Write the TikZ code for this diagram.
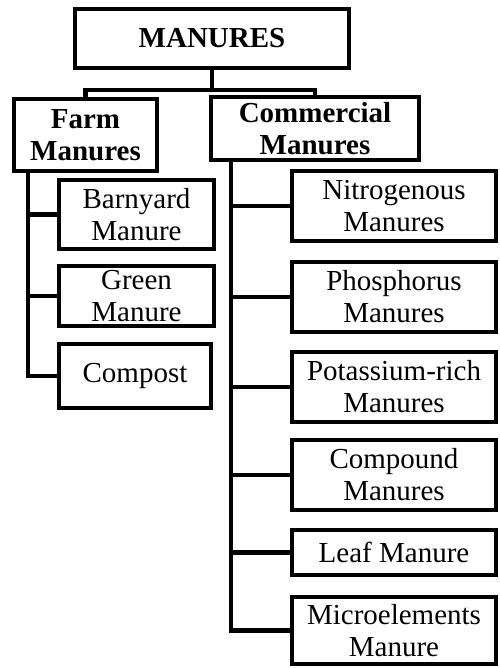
\documentclass[tikz,border=0pt]{standalone}
\usepackage{fontspec}
\setmainfont{Liberation Serif}
\usepackage{tikz}

\begin{document}
\begin{tikzpicture}[x=0.5pt,y=-0.5pt,
                box/.style={draw,line width=2.4pt,align=center,inner sep=1pt,
                        font=\fontsize{14.5}{16}\selectfont},
                head/.style={box,font=\fontsize{14.5}{16}\selectfont\bfseries},
                farmitem/.style={box,minimum width=77.5pt},
                commitem/.style={box,minimum width=102pt,minimum height=35pt},
                link/.style={line width=2.4pt}]
                \useasboundingbox (0,0) rectangle (499,668);

                \node (root) at (212,38.5) [head,minimum width=137pt,minimum height=29.5pt] {MANURES};
                \node (farm) at (85.5,135) [head,minimum width=71.5pt,minimum height=36pt] {Farm\\Manures};
                \node (comm) at (315,128.5) [head,minimum width=104pt,minimum height=31.5pt] {Commercial\\Manures};

                \node (barn) at (136.5,214.5) [farmitem,minimum height=34.5pt] {Barnyard\\Manure};
                \node (green) at (136.5,296) [farmitem,minimum height=30pt] {Green\\Manure};
                \node (compost) at (135,376) [farmitem,minimum width=76pt,minimum height=32pt] {Compost};

                \node (nitro) at (394,206) [commitem] {Nitrogenous\\Manures};
                \node (phos) at (394,297) [commitem] {Phosphorus\\Manures};
                \node (potas) at (394,387) [commitem] {Potassium-rich\\Manures};
                \node (compound) at (394,475) [commitem] {Compound\\Manures};
                \node (leaf) at (394,552.5) [commitem,minimum height=22.5pt] {Leaf Manure};
                \node (micro) at (394,630.5) [commitem,minimum height=33.5pt] {Microelements\\Manure};

                \coordinate (split) at (212,90);
                \coordinate (ftrunk) at (28,171);
                \coordinate (ctrunk) at (231,160);

                \draw[link] (root) -- (split) (split) -| (farm) (split) -| (comm);
                \draw[link] (ftrunk) |- (compost.west) (ftrunk |- barn.west) -- (barn.west)
                (ftrunk |- green.west) -- (green.west);
                \draw[link] (ctrunk) |- (micro.west) (ctrunk |- nitro.west) -- (nitro.west)
                (ctrunk |- phos.west) -- (phos.west) (ctrunk |- potas.west) -- (potas.west)
                (ctrunk |- compound.west) -- (compound.west) (ctrunk |- leaf.west) -- (leaf.west);

            \end{tikzpicture}
\end{document}
